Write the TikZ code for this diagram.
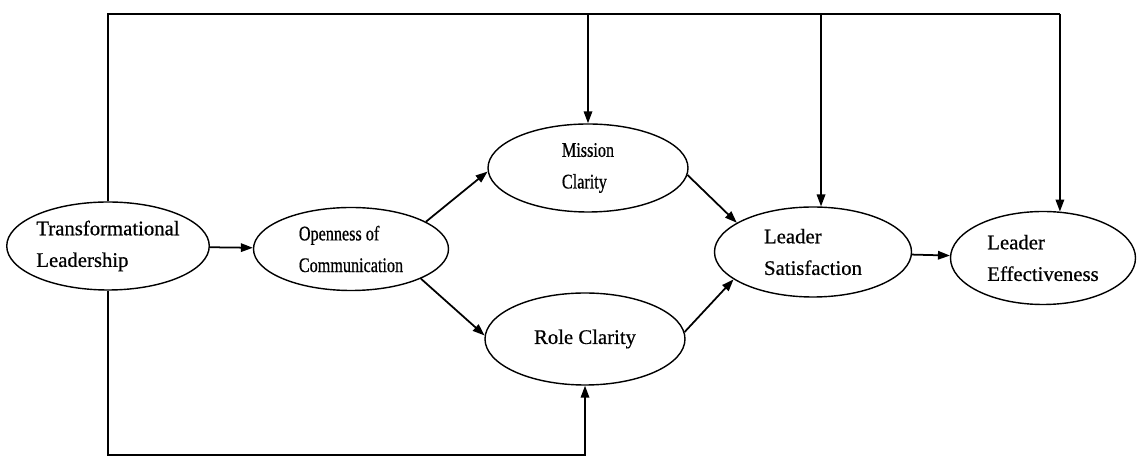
\documentclass[tikz,border=0pt]{standalone}
\usepackage{fontspec}
\setmainfont{Liberation Serif}[FakeBold=0.6]
\newfontfamily\etroit{Liberation Serif}[FakeStretch=0.78,FakeBold=0.6]
\usetikzlibrary{shapes.geometric,arrows.meta}
\tikzset{
  construit/.style={draw, ellipse, line width=0.8pt, inner sep=0pt, align=left,
    font={\fontsize{11.8pt}{18pt}\selectfont}},
  fleche/.style={-{Triangle[length=2.4mm,width=1.7mm]}, line width=1pt}
}
\begin{document}
\begin{tikzpicture}
  \useasboundingbox (0,0) rectangle (22.84,9.24);

  % Variables
  \node[construit, minimum width=4cm, minimum height=1.76cm] (TL) at (2.16,4.32) {Transformational\\Leadership};
  \node[construit, minimum width=3.9cm, minimum height=1.66cm, font={\etroit\fontsize{11.8pt}{18pt}\selectfont}] (OC) at (7.02,4.26) {Openness of\\Communication};
  \node[construit, minimum width=4cm, minimum height=1.76cm, font={\etroit\fontsize{11.8pt}{18pt}\selectfont}] (MC) at (11.76,5.88) {Mission\\Clarity};
  \node[construit, minimum width=4cm, minimum height=1.84cm] (RC) at (11.7,2.46) {Role Clarity};
  \node[construit, minimum width=3.94cm, minimum height=1.8cm] (LS) at (16.26,4.2) {Leader\\Satisfaction};
  \node[construit, minimum width=3.7cm, minimum height=1.86cm] (LE) at (20.86,4.08) {Leader\\Effectiveness};

  % Chemins directs
  \draw[fleche] (TL) -- (OC);
  \draw[fleche] (OC.20) -- (MC.182);
  \draw[fleche] (OC.-23) -- (RC.178);
  \draw[fleche] (MC.-4) -- (LS.159);
  \draw[fleche] (RC.4) -- (LS.199);
  \draw[fleche] (LS) -- (LE);

  % Ligne du haut
  \coordinate (haut) at (2.12,8.96);
  \coordinate (bas) at (2.12,0.14);
  \draw[line width=1pt] (TL.north) -- (TL.north |- haut) -- (LE.70 |- haut);
  \draw[fleche] (MC.north |- haut) -- (MC.north);
  \draw[fleche] (LS.80 |- haut) -- (LS.80);
  \draw[fleche] (LE.70 |- haut) -- (LE.70);

  % Ligne du bas
  \draw[fleche] (TL.south) -- (TL.south |- bas) -| (RC.south);

\end{tikzpicture}
\end{document}
